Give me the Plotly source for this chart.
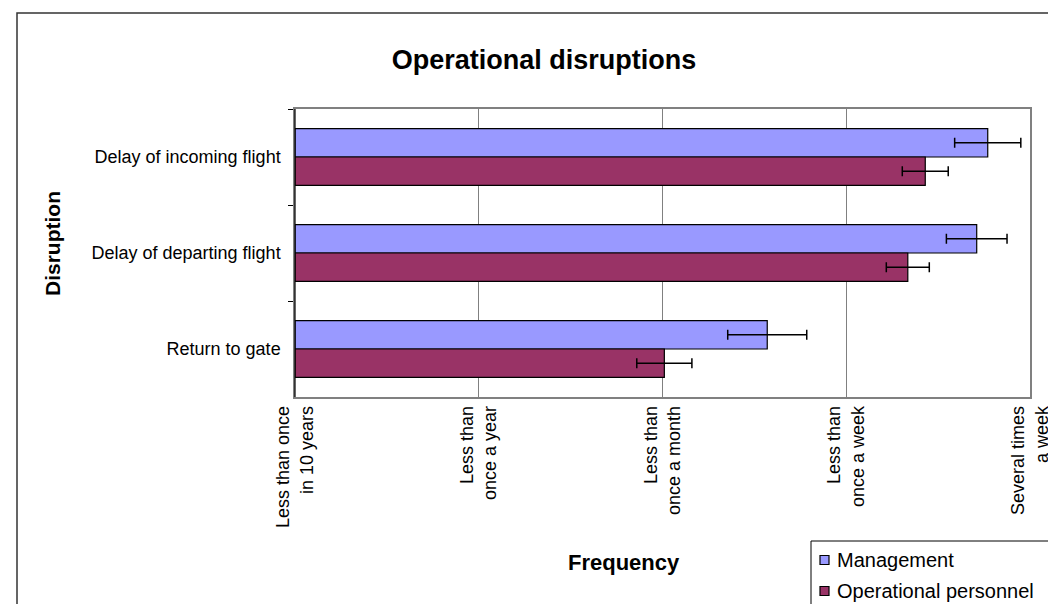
import plotly.graph_objects as go

categories = ["Delay of incoming flight", "Delay of departing flight", "Return to gate"]
management = [3.77, 3.71, 2.57]
management_err = [0.18, 0.165, 0.215]
operational = [3.43, 3.335, 2.01]
operational_err = [0.125, 0.117, 0.15]
freq_vals = [0, 1, 2, 3, 4]
freq_labels = ["Less than once<br>in 10 years", "Less than<br>once a year", "Less than<br>once a month",
               "Less than<br>once a week", "Several times<br>a week"]
series_names = ["Management", "Operational personnel"]
series_colors = ["#9999FF", "#993366"]

FONT = "Liberation Sans, Arial, sans-serif"
W, H = 1056, 604
L, R, T, B = 287, 1022, 101, 389
pw, ph = R - L, B - T


def px(x):
    return (x - L) / pw


def py(y):
    return (B - y) / ph


fig = go.Figure()
for name, vals, errs, col in zip(series_names, [management, operational],
                                 [management_err, operational_err], series_colors):
    fig.add_trace(go.Bar(
        y=categories, x=vals, orientation="h", name=name,
        marker=dict(color=col, line=dict(color="black", width=1.2)),
        error_x=dict(type="data", array=errs, color="black", thickness=1.5, width=5),
    ))

# manual legend (box, swatches, labels)
legend_shapes = [
    dict(type="rect", xref="paper", yref="paper", x0=px(803), x1=px(1047), y0=py(620), y1=py(533),
         line=dict(color="black", width=1), fillcolor="white", layer="above"),
]
legend_ann = []
for i, (name, col) in enumerate(zip(series_names, series_colors)):
    yc = 552 + i * 31
    legend_shapes.append(dict(type="rect", xref="paper", yref="paper", x0=px(812), x1=px(821),
                              y0=py(yc + 4.5), y1=py(yc - 4.5), fillcolor=col,
                              line=dict(color="black", width=1.2), layer="above"))
    legend_ann.append(dict(text=name, x=px(827), y=py(yc), xref="paper", yref="paper",
                           showarrow=False, font=dict(size=20), xanchor="left", yanchor="middle"))

fig.update_layout(
    width=W, height=H,
    margin=dict(l=L, r=W - R, t=T, b=H - B),
    paper_bgcolor="white", plot_bgcolor="white",
    barmode="group", bargap=0.41, bargroupgap=0,
    font=dict(family=FONT, color="black", size=18),
    title=dict(text="<b>Operational disruptions</b>", font=dict(size=27, family=FONT),
               x=536 / W, xanchor="center", y=1 - 52 / H, yanchor="middle"),
    xaxis=dict(range=[0, 4], tickvals=freq_vals, ticktext=freq_labels, tickangle=-90,
               showgrid=True, gridcolor="#808080", gridwidth=1, zeroline=False,
               showline=True, linecolor="#808080", linewidth=1.5, mirror=True,
               ticks="", tickfont=dict(size=18)),
    yaxis=dict(autorange="reversed", type="category", tickson="boundaries", ticks="outside",
               ticklen=5, tickcolor="black", showline=True, linecolor="#808080", linewidth=1.5,
               mirror=True, showgrid=False, tickfont=dict(size=18), ticklabelstandoff=9),
    showlegend=False,
    annotations=[
        dict(text="<b>Frequency</b>", x=px(616), y=py(554), xref="paper", yref="paper",
             showarrow=False, font=dict(size=22), xanchor="center", yanchor="middle"),
        dict(text="<b>Disruption</b>", x=px(44), y=py(235), xref="paper", yref="paper",
             showarrow=False, font=dict(size=21), textangle=-90, xanchor="center", yanchor="middle"),
    ] + legend_ann,
    shapes=[
        dict(type="rect", xref="paper", yref="paper", x0=px(9), x1=px(1070), y0=py(640), y1=py(5),
             line=dict(color="#333333", width=1.5), layer="below"),
        dict(type="line", xref="paper", yref="paper", x0=0, x1=0, y0=0, y1=1,
             line=dict(color="black", width=1.2)),
    ] + legend_shapes,
)

fig.write_html("out.html")
